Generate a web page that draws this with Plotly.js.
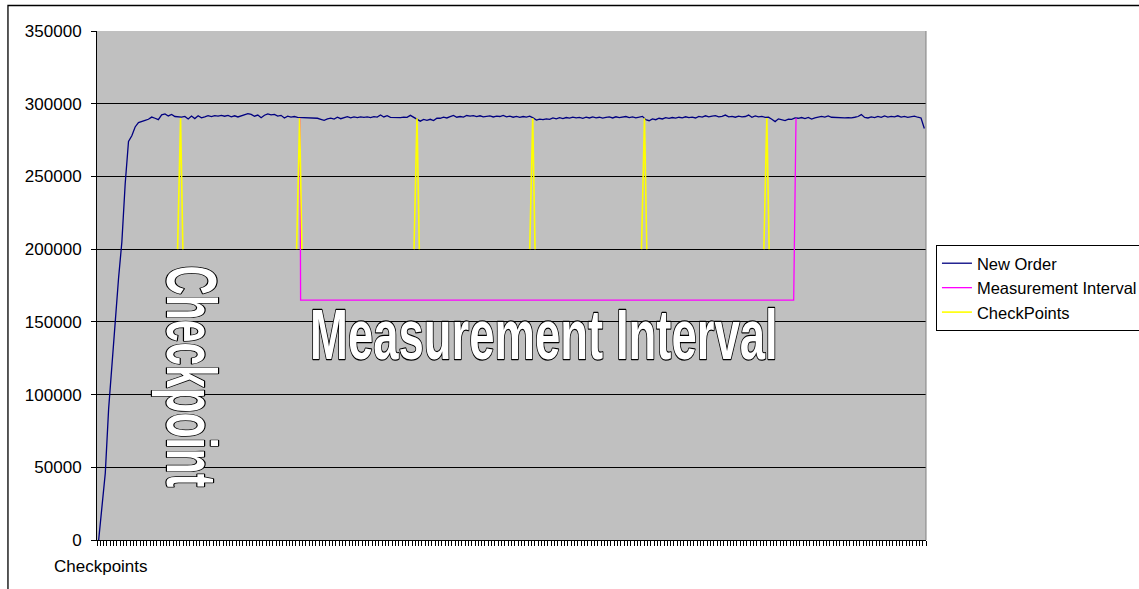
<!DOCTYPE html>
<html>
<head>
<meta charset="utf-8">
<script src="https://cdn.plot.ly/plotly-3.0.1.min.js"></script>
<style>
  html, body { margin: 0; padding: 0; background: #fff; }
  #chart { width: 1139px; height: 589px; }
</style>
</head>
<body>
<div id="chart"></div>
<script>
// New Order throughput, one value per sample interval
const newOrder = [
  0, 22000, 46000, 90000, 117000, 150000, 180000, 205000, 245000, 274000,
  278000, 284000, 287000, 288000, 288600, 289300, 290800, 290000, 289000, 292300,
  293000, 291600, 292600, 291200, 291000, 290800, 291300, 289500, 291500, 289800,
  291700, 290300, 291000, 291800, 291200, 291800, 291500, 292000, 291400, 291900,
  291000, 291700, 290900, 291800, 292600, 293200, 292700, 291400, 292200, 290400,
  292100, 293000, 292300, 292700, 291500, 292000, 290200, 291500, 290800, 291200,
  290600, 290500, 290300, 290200, 290400, 290300, 290000, 289300, 288600, 289600,
  290100, 289400, 290700, 289700, 290500, 291100, 290300, 290900, 290500, 291000,
  290600, 290900, 290400, 291100, 290800, 292200, 290900, 291800, 290600, 290500,
  290300, 290500, 290800, 290600, 292000, 290700, 289400, 288000, 289200, 288600,
  289300, 288400, 290100, 290000, 290700, 290200, 291100, 292000, 290700, 291200,
  290800, 291900, 291500, 291800, 291100, 291700, 290900, 291400, 291600, 290900,
  291500, 291200, 291900, 291000, 291400, 290700, 291300, 290600, 291200, 290800,
  291400, 290300, 288700, 289400, 289000, 289600, 289300, 290200, 289600, 290400,
  289800, 290500, 290100, 290800, 290300, 290600, 290000, 290700, 290200, 290900,
  290300, 290700, 290100, 290600, 290900, 290200, 291000, 290400, 290800, 291200,
  290500, 290900, 290300, 291000, 291300, 289000, 288300, 289600, 289000, 290000,
  289500, 290400, 289900, 290500, 290100, 290700, 290300, 291000, 290400, 290800,
  290200, 291300, 290800, 291700, 291000, 291400, 291800, 291000, 291300, 292200,
  291000, 291300, 290700, 291400, 291000, 291200, 292200, 290700, 291600, 290900,
  291300, 290600, 290700, 289300, 287700, 289600, 289000, 288400, 289400, 289200,
  290200, 290000, 290500, 289800, 290600, 289400, 290300, 290700, 291300, 290800,
  291600, 290700, 290500, 290300, 290600, 290300, 290500, 290300, 290700, 291200,
  292500, 290600, 290200, 290900, 290400, 291300, 290600, 291600, 290800, 291300,
  291000, 291700, 290800, 291300, 290600, 290900, 291500, 290700, 290200, 283000
];
const sampleIndex = newOrder.map((_, i) => i);

// Measurement interval marker (start, floor, end)
const intervalX = [60.7, 60.9, 209.6, 210.3];
const intervalY = [290000, 165000, 165000, 290000];

// Checkpoint markers, one spike per checkpoint
const checkpointX = [23.8, 24.7, 25.4, null, 59.7, 60.6, 61.3, null, 95.1, 96.0, 96.7, null,
                     130.0, 130.9, 131.6, null, 163.7, 164.6, 165.3, null, 200.6, 201.5, 202.2];
const checkpointY = [200000, 290000, 200000, null, 200000, 290000, 200000, null, 200000, 290000, 200000, null,
                     200000, 290000, 200000, null, 200000, 290000, 200000, null, 200000, 290000, 200000];

const seriesNames = ['New Order', 'Measurement Interval', 'CheckPoints'];
const yTicks = [0, 50000, 100000, 150000, 200000, 250000, 300000, 350000];
const xAxisLabel = 'Checkpoints';

// Category boundaries for the tick comb along the bottom axis
const boundaryTicks = [];
for (let i = 0; i <= newOrder.length; i++) boundaryTicks.push(i - 0.5);

const FONT = 'Liberation Sans, Arial, Helvetica, sans-serif';

const traces = [
  { x: sampleIndex, y: newOrder, name: seriesNames[0], type: 'scatter', mode: 'lines',
    line: { color: '#000080', width: 1.3 } },
  { x: intervalX, y: intervalY, name: seriesNames[1], type: 'scatter', mode: 'lines',
    line: { color: '#FF00FF', width: 1.3 } },
  { x: checkpointX, y: checkpointY, name: seriesNames[2], type: 'scatter', mode: 'lines',
    connectgaps: false, line: { color: '#FFFF00', width: 1.6 } }
];

// Big outlined banner labels
const wordArt = [
  { text: 'Measurement Interval', x: 134.3, y: 141300, angle: 0, span: 141.1, spanAxis: 'x' },
  { text: 'Checkpoint', x: 27.9, y: 112800, angle: 90, span: 152650, spanAxis: 'y' }
];

const annotations = wordArt.map(w => ({
  text: '<b>' + w.text + '</b>', x: w.x, y: w.y, xref: 'x', yref: 'y', showarrow: false,
  xanchor: 'center', yanchor: 'middle', textangle: w.angle,
  font: { family: FONT, size: 70, color: '#FFFFFF' }
}));
annotations.push({
  text: xAxisLabel, xref: 'paper', yref: 'paper', x: -0.0543, y: -0.053,
  xanchor: 'left', yanchor: 'middle', showarrow: false,
  font: { family: FONT, size: 17, color: '#000' }
});

const layout = {
  width: 1139, height: 589,
  margin: { l: 97, r: 213, t: 31, b: 49, pad: 0, autoexpand: false },
  paper_bgcolor: '#FFFFFF',
  plot_bgcolor: '#C0C0C0',
  font: { family: FONT, size: 16, color: '#000' },
  showlegend: true,
  legend: {
    x: 1.012, xanchor: 'left', y: 0.5796, yanchor: 'top',
    bgcolor: '#FFFFFF', bordercolor: '#000', borderwidth: 1,
    font: { family: FONT, size: 16.5, color: '#000' },
    tracegroupgap: 0
  },
  xaxis: {
    range: [-0.5, newOrder.length - 0.5],
    showgrid: false, zeroline: false,
    showline: true, linecolor: '#000', linewidth: 1,
    tickmode: 'array', tickvals: boundaryTicks, ticks: 'outside', ticklen: 5,
    tickcolor: '#000', tickwidth: 1, showticklabels: false
  },
  yaxis: {
    range: [0, 350000], tickmode: 'array', tickvals: yTicks, tickformat: 'd',
    showgrid: true, gridcolor: '#000', gridwidth: 1, zeroline: false,
    showline: true, linecolor: '#000', linewidth: 1,
    ticks: 'outside', ticklen: 5, tickcolor: '#000', ticklabelstandoff: 6,
    tickfont: { family: FONT, size: 17, color: '#000' }
  },
  annotations: annotations,
  shapes: [
    { type: 'line', xref: 'paper', yref: 'paper', x0: 1, x1: 1, y0: 0, y1: 1,
      line: { color: '#808080', width: 1 } },
    { type: 'rect', xref: 'paper', yref: 'paper', x0: -0.1074, x1: 1.6, y0: -0.5, y1: 1.0501,
      line: { color: '#000', width: 1.3 }, fillcolor: 'rgba(0,0,0,0)' }
  ]
};

const gd = document.getElementById('chart');

// Squeeze the banner text along its baseline to a condensed look and give it a black outline
function styleWordArt() {
  const fl = gd._fullLayout;
  const pxPerX = fl.xaxis._length / (fl.xaxis.range[1] - fl.xaxis.range[0]);
  const pxPerY = fl.yaxis._length / (fl.yaxis.range[1] - fl.yaxis.range[0]);
  gd.querySelectorAll('g.annotation').forEach(g => {
    const i = +g.getAttribute('data-index');
    const w = wordArt[i];
    if (!w) return;
    const t = g.querySelector('text.annotation-text');
    if (!t) return;
    t.removeAttribute('transform');
    t.style.fontWeight = '700';
    const bb = t.getBBox();
    const target = w.span * (w.spanAxis === 'x' ? pxPerX : pxPerY);
    const sx = target / bb.width;
    const cx = bb.x + bb.width / 2;
    t.setAttribute('transform', `translate(${cx},0) scale(${sx},1) translate(${-cx},0)`);
    t.style.stroke = '#000';
    t.style.strokeWidth = '2.4px';
    t.style.paintOrder = 'stroke';
    t.style.strokeLinejoin = 'round';
  });
}

Plotly.newPlot(gd, traces, layout, { staticPlot: true, displayModeBar: false }).then(styleWordArt);
</script>
</body>
</html>
